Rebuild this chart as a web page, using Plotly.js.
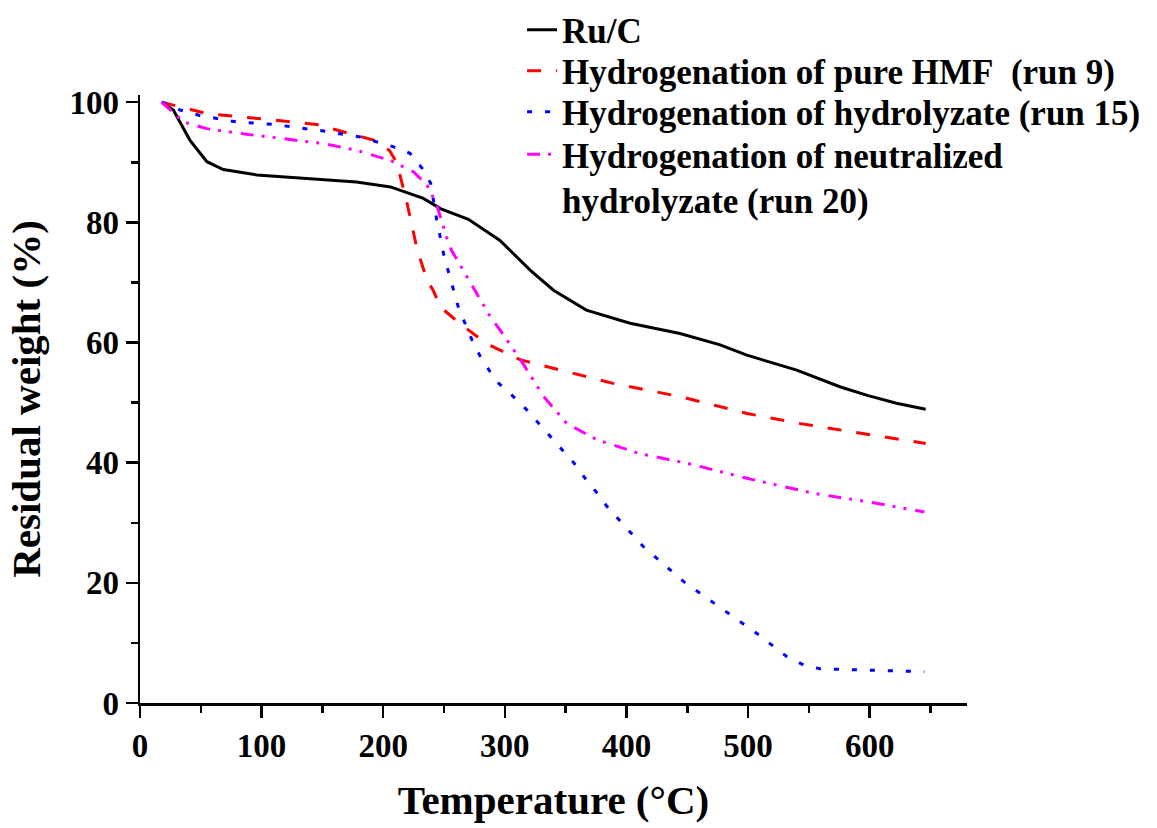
<!DOCTYPE html>
<html>
<head>
<meta charset="utf-8">
<script src="https://cdn.plot.ly/plotly-3.0.1.min.js"></script>
<style>
html,body{margin:0;padding:0;background:#fff;}
#chart{width:1157px;height:828px;}
</style>
</head>
<body>
<div id="chart"></div>
<script>
// Ru/C
var ruT = [17.8, 27.4, 41, 55, 68.5, 96, 137, 178, 206, 233, 247, 270, 296, 321, 340, 367, 403, 444, 477, 499, 540, 576, 598, 622, 646];
var ruW = [100, 98.7, 93.7, 90.1, 88.8, 87.9, 87.3, 86.7, 85.9, 84.0, 82.3, 80.5, 77.0, 72.0, 68.7, 65.4, 63.2, 61.5, 59.6, 57.9, 55.4, 52.6, 51.2, 49.9, 48.9];
// Hydrogenation of pure HMF (run 9)
var hmfT = [17.8, 55, 96, 145, 192, 205, 211, 216, 219, 228, 236, 241, 247, 264, 285, 313, 351, 389, 444, 499, 543, 592, 646];
var hmfW = [100, 98.1, 97.3, 96.3, 93.7, 92.0, 90.0, 86.0, 83.7, 75.4, 70.4, 68.7, 65.9, 63.0, 59.8, 57.1, 55.1, 53.2, 51.0, 48.2, 46.5, 44.9, 43.2];
// Hydrogenation of hydrolyzate (run 15)
var hydT = [17.8, 33, 49, 80, 110, 151, 181, 208, 222, 232, 239, 244, 250, 258, 262, 273, 280, 288, 295, 307, 318, 328, 347, 357, 366, 376, 384, 414, 447, 472, 496, 507, 532, 546, 559, 603, 645];
var hydW = [100, 98.7, 97.8, 96.7, 96.3, 95.2, 94.2, 92.6, 91.5, 89.0, 86.5, 80.4, 74.4, 68.7, 65.7, 60.4, 57.6, 55.1, 53.2, 51.0, 48.8, 46.5, 42.1, 39.9, 37.4, 34.9, 32.7, 26.0, 20.2, 16.6, 13.1, 11.6, 7.7, 6.3, 5.7, 5.4, 5.2];
// Hydrogenation of neutralized hydrolyzate (run 20)
var neuT = [17.8, 36, 55, 82, 115, 151, 178, 206, 225, 236, 244, 252, 256, 269, 277, 288, 296, 313, 332, 351, 376, 411, 450, 499, 554, 598, 645];
var neuW = [100, 96.7, 95.6, 94.8, 94.0, 93.1, 92.0, 90.3, 88.4, 86.2, 82.9, 77.6, 75.4, 70.9, 68.2, 64.3, 62.1, 57.1, 51.0, 46.5, 43.8, 41.5, 39.9, 37.4, 34.9, 33.5, 31.8];

var seriesNames = ["Ru/C", "Hydrogenation of pure HMF&nbsp; (run 9)", "Hydrogenation of hydrolyzate (run 15)", "Hydrogenation of neutralized<br>hydrolyzate (run 20)"];
var xTitle = "Temperature (°C)";
var yTitle = "Residual weight (%)";

var serif = "Liberation Serif, Times New Roman, serif";

var traces = [
  {x: ruT, y: ruW, name: seriesNames[0], mode: "lines", line: {color: "#000000", width: 3}, legend: "legend"},
  {x: hmfT, y: hmfW, name: seriesNames[1], mode: "lines", line: {color: "#FF0000", width: 3, dash: "14px,15px"}, legend: "legend2"},
  {x: hydT, y: hydW, name: seriesNames[2], mode: "lines", line: {color: "#0000FF", width: 3, dash: "5px,13px"}, legend: "legend3"},
  {x: neuT, y: neuW, name: seriesNames[3], mode: "lines", line: {color: "#FF00FF", width: 3, dash: "13px,8px,3px,8px,3px,9px"}, legend: "legend4"}
];

function py(p) { return (703 - p) / 608; }
function leg(yv) {
  return {x: 0.462, xanchor: "left", y: yv, yanchor: "middle", valign: "top",
    bgcolor: "rgba(0,0,0,0)", borderwidth: 0,
    font: {family: serif, size: 35, color: "#000", weight: "bold"}};
}

var layout = {
  width: 1157, height: 828,
  paper_bgcolor: "#ffffff", plot_bgcolor: "#ffffff",
  margin: {l: 140, r: 190, t: 95, b: 125, autoexpand: false},
  showlegend: true,
  legend: leg(py(30)),
  legend2: leg(py(71)),
  legend3: leg(py(112)),
  legend4: Object.assign(leg(0), {yanchor: "top", y: py(125)}),
  xaxis: {
    range: [0, 680], showgrid: false, zeroline: false,
    showline: true, linecolor: "#000", linewidth: 2.5,
    ticks: "outside", ticklen: 12, tickwidth: 2.5, tickcolor: "#000",
    tick0: 0, dtick: 100,
    minor: {ticks: "outside", ticklen: 7, tickwidth: 2.5, tickcolor: "#000", dtick: 50},
    tickfont: {family: serif, size: 33, color: "#000", weight: "bold"},
    title: {text: xTitle, font: {family: serif, size: 41, color: "#000", weight: "bold"}, standoff: 22}
  },
  yaxis: {
    range: [0, 101.2], showgrid: false, zeroline: false,
    showline: true, linecolor: "#000", linewidth: 2.5,
    ticks: "outside", ticklen: 12, tickwidth: 2.5, tickcolor: "#000",
    tick0: 0, dtick: 20,
    minor: {ticks: "outside", ticklen: 7, tickwidth: 2.5, tickcolor: "#000", dtick: 10},
    tickfont: {family: serif, size: 33, color: "#000", weight: "bold"},
    title: {text: yTitle, font: {family: serif, size: 41, color: "#000", weight: "bold"}, standoff: 16}
  }
};

Plotly.newPlot("chart", traces, layout, {displayModeBar: false, staticPlot: true});
</script>
</body>
</html>
